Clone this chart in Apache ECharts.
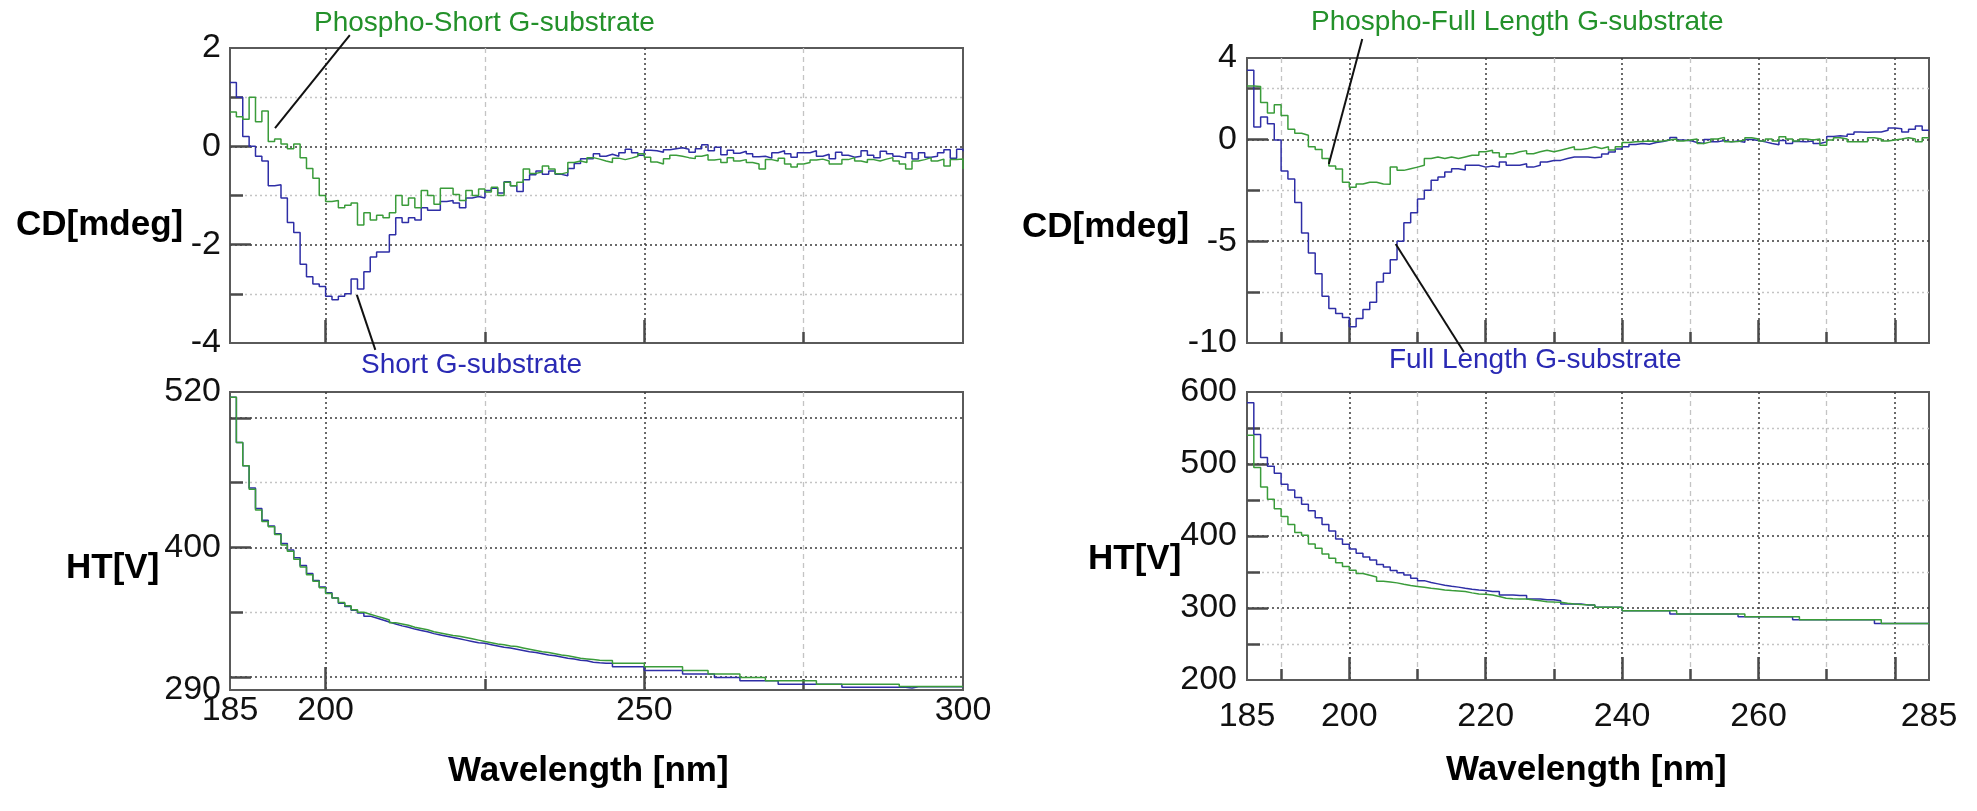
<!DOCTYPE html>
<html>
<head>
<meta charset="utf-8">
<script src="https://cdn.jsdelivr.net/npm/echarts@6/dist/echarts.min.js"></script>
<style>
  html, body { margin: 0; padding: 0; background: #ffffff; }
  #chart { width: 1977px; height: 811px; }
</style>
</head>
<body>
<div id="chart"></div>
<script>
// ---------------- spectra (1 nm sampling) ----------------
// Short G-substrate panel: 185 .. 300 nm
const shortStart = 185;
const cdShort = [
  1.30, 1.00, 0.20, 0.00, -0.20, -0.30, -0.80, -0.78, -1.05, -1.55,
  -1.75, -2.40, -2.65, -2.80, -2.85, -3.05, -3.12, -3.05, -3.00, -2.70,
  -2.90, -2.55, -2.25, -2.15, -2.15, -1.80, -1.45, -1.55, -1.45, -1.50,
  -1.25, -1.30, -1.30, -1.12, -1.10, -1.15, -1.25, -1.05, -1.02, -1.05,
  -0.90, -0.85, -0.95, -0.72, -0.80, -0.92, -0.68, -0.58, -0.50, -0.57,
  -0.50, -0.57, -0.60, -0.45, -0.35, -0.25, -0.25, -0.15,
  -0.20, -0.16, -0.20, -0.13, -0.06, -0.13, -0.18, -0.08, -0.09, -0.12,
  -0.07, -0.05, -0.03, -0.06, -0.12, -0.05, 0.03, -0.09, -0.02, -0.17,
  -0.08, -0.14, -0.10, -0.15, -0.21, -0.20, -0.24, -0.13, -0.09, -0.15,
  -0.22, -0.13, -0.13, -0.09, -0.20, -0.16, -0.25, -0.12, -0.18, -0.22,
  -0.20, -0.09, -0.18, -0.23, -0.10, -0.15, -0.20, -0.23, -0.13, -0.26,
  -0.13, -0.22, -0.20, -0.13, -0.07, -0.24, -0.06, -0.10
];
const cdPhosphoShort = [
  0.70, 0.60, 0.55, 1.00, 0.50, 0.72, 0.10, 0.15, 0.05, -0.05,
  0.05, -0.23, -0.45, -0.65, -1.00, -1.12, -1.10, -1.25, -1.20, -1.15,
  -1.60, -1.35, -1.50, -1.40, -1.45, -1.35, -1.00, -1.20, -1.05, -1.25,
  -0.90, -1.00, -1.18, -0.85, -0.85, -0.98, -1.10, -0.90, -1.00, -0.87,
  -0.93, -0.83, -1.00, -0.73, -0.80, -0.73, -0.46, -0.55, -0.52, -0.40,
  -0.46, -0.56, -0.53, -0.33, -0.30, -0.33, -0.23, -0.26,
  -0.30, -0.33, -0.24, -0.27, -0.24, -0.20, -0.15, -0.22, -0.32, -0.36,
  -0.25, -0.18, -0.20, -0.23, -0.25, -0.20, -0.17, -0.28, -0.26, -0.33,
  -0.23, -0.30, -0.27, -0.33, -0.36, -0.46, -0.27, -0.30, -0.24, -0.36,
  -0.42, -0.36, -0.33, -0.28, -0.26, -0.30, -0.36, -0.36, -0.27, -0.23,
  -0.30, -0.33, -0.27, -0.30, -0.26, -0.23, -0.30, -0.36, -0.46, -0.30,
  -0.27, -0.23, -0.30, -0.26, -0.40, -0.27, -0.26, -0.46
];
const htShort = [
  516, 481, 463, 446, 430, 421, 416.5, 410.5, 403, 398,
  392, 386, 380, 374.5, 369.5, 365, 361, 357, 354.5, 351.5,
  349.5, 347, 345.5, 344, 342.5, 341, 339.5, 338.5, 337, 336,
  335, 333.5, 332.5, 331.5, 330.5, 329.5, 328.5, 327.5, 326.5, 326,
  325, 324, 323, 322.5, 321.5, 320.5, 319.5, 319, 318, 317,
  316.5, 315.5, 314.5, 314, 313, 312.5, 311.5, 311, 310.6, 310.6,
  308, 308, 308, 308, 308, 305, 305, 305, 305, 305,
  305, 302.3, 302.3, 302.3, 302.3, 302.3, 299.7, 299.7, 299.7, 299.7,
  297.1, 297.1, 297.1, 297.1, 297.1, 297.1, 294.5, 294.5, 294.5, 294.5,
  294.5, 294.5, 294.5, 294.5, 294.5, 294.5, 292.2, 292.2, 292.2, 292.2,
  292.2, 292.2, 292.2, 292.2, 292.2, 292.2, 291.5, 292.5, 292.5, 292.5,
  292.5, 292.5, 292.5, 292.5, 292.5, 292.5
];
const htPhosphoShort = [
  516, 481, 463, 445, 429, 420, 416, 410, 402, 397,
  391, 385, 379, 374, 369, 364.5, 361, 357.5, 355, 352,
  350, 348.5, 347, 345.5, 344, 342, 341, 340, 338.5, 337.5,
  336.5, 335, 334, 333, 332, 331.5, 330.5, 329.5, 328.5, 327.5,
  326.5, 325.5, 325, 324, 323.5, 322.5, 321.5, 320.5, 319.5, 319,
  318, 317, 316.5, 315.5, 314.5, 314, 313.5, 313, 312.7, 312.7,
  310.6, 310.6, 310.6, 310.6, 310.6, 308, 308, 308, 308, 308,
  308, 305, 305, 305, 305, 302.3, 302.3, 302.3, 302.3, 302.3,
  299.7, 299.7, 299.7, 299.7, 297.1, 297.1, 297.1, 297.1, 297.1, 297.1,
  297.1, 297.1, 294.5, 294.5, 294.5, 294.5, 294.5, 294.5, 294.5, 294.5,
  294.5, 294.5, 294.5, 294.5, 294.5, 292.7, 292.7, 292.7, 292.7, 292.7,
  292.7, 292.7, 292.7, 292.7, 292.7, 292.7
];

// Full Length G-substrate panel: 185 .. 285 nm
const fullStart = 185;
const cdFull = [
  3.40, 0.61, 1.10, 0.77, -0.03, -1.55, -1.94, -3.10, -4.60, -5.58,
  -6.60, -7.70, -8.30, -8.55, -8.75, -9.20, -8.80, -8.35, -8.00, -7.00,
  -6.57, -5.91, -5.00, -4.09, -3.60, -2.93, -2.50, -2.00, -1.85, -1.60,
  -1.44, -1.50, -1.27, -1.27, -1.36, -1.30, -1.36, -1.11, -1.27, -1.27,
  -1.20, -1.36, -1.27, -1.11, -1.03, -1.03, -0.94, -0.86, -0.86, -0.86,
  -0.90,
  -0.86, -0.72, -0.62, -0.47, -0.36, -0.25, -0.20, -0.24, -0.15, -0.10,
  -0.03, 0.10, -0.03, -0.06, -0.15, -0.20, 0.00, -0.12, -0.05, -0.12,
  -0.08, -0.14, 0.00, -0.05, -0.12, -0.20, -0.26, -0.05, -0.20, -0.10,
  -0.12, -0.08, -0.20, -0.12, 0.15, 0.18, 0.15, 0.25, 0.37, 0.35,
  0.37, 0.37, 0.45, 0.56, 0.53, 0.37, 0.50, 0.66, 0.45, 0.45
];
const cdPhosphoFull = [
  2.63, 2.60, 1.82, 1.30, 1.70, 1.18, 0.50, 0.30, 0.21, -0.36,
  -0.50, -0.94, -1.30, -1.45, -2.10, -2.35, -2.19, -2.10, -2.10, -2.19,
  -2.20, -1.36, -1.52, -1.44, -1.36, -1.27, -0.94, -0.86, -0.94, -0.86,
  -0.94, -0.86, -0.78, -0.78, -0.61, -0.53, -0.65, -0.86, -0.70, -0.61,
  -0.55, -0.70, -0.61, -0.53, -0.61, -0.53, -0.45, -0.36, -0.50, -0.45,
  -0.36,
  -0.45, -0.36, -0.52, -0.36, -0.15, -0.12, -0.10, -0.08, -0.10, -0.08,
  -0.03, 0.02, -0.08, -0.03, 0.02, -0.20, -0.12, 0.02, 0.10, -0.12,
  -0.10, -0.03, 0.08, 0.02, -0.08, 0.02, -0.08, 0.13, 0.02, -0.08,
  0.02, -0.03, 0.02, -0.28, -0.03, 0.08, 0.02, -0.12, -0.12, -0.12,
  0.08, 0.02, -0.08, -0.03, 0.02, 0.08, 0.02, -0.12, 0.08, 0.08
];
const htFull = [
  585, 541, 509, 497, 487, 472, 464, 453.5, 444, 435,
  425.5, 416, 407, 396, 388.5, 382, 376, 371, 366.5, 360.5,
  357, 352, 349, 346, 341.4, 338, 335.5, 333.5, 331.5, 330.2,
  329, 327.4, 326, 325, 324.2, 322.8, 322.8, 318.1, 318.1, 317.2,
  317.2, 312.6, 312.6, 311.6, 311.6, 310.2, 305.6, 305.6, 305.6, 304.2,
  304.2,
  300.9, 300.9, 300.9, 300.9, 296.3, 296.3, 296.3, 296.3, 296.3, 296.3,
  296.3, 291.6, 291.6, 291.6, 291.6, 291.6, 291.6, 291.6, 291.6, 291.6,
  291.6, 287.9, 287.9, 287.9, 287.9, 287.9, 287.9, 287.9, 287.9, 283.7,
  283.7, 283.7, 283.7, 283.7, 283.7, 283.7, 283.7, 283.7, 283.7, 283.7,
  283.7, 278.6, 278.6, 278.6, 278.6, 278.6, 278.6, 278.6, 278.6, 278.6
];
const htPhosphoFull = [
  540, 495, 468, 451, 438, 427, 416, 405, 401, 389,
  383, 375, 369, 363, 357.5, 352.5, 348, 345.5, 343, 337,
  336, 334.9, 333, 331.2, 330, 328.8, 327.5, 326.5, 325, 324.2,
  323.5, 322.8, 321, 319.5, 319, 318.1, 316, 313.5, 313, 312.6,
  312.6, 311, 310, 308.8, 308.3, 307.9, 306.5, 305.6, 305, 304.5,
  304.2,
  300.9, 300.9, 300.9, 300.9, 296.3, 296.3, 296.3, 296.3, 296.3, 296.3,
  296.3, 296.3, 291.6, 291.6, 291.6, 291.6, 291.6, 291.6, 291.6, 291.6,
  291.6, 291.6, 287.9, 287.9, 287.9, 287.9, 287.9, 287.9, 287.9, 287.9,
  283.7, 283.7, 283.7, 283.7, 283.7, 283.7, 283.7, 283.7, 283.7, 283.7,
  283.7, 283.7, 278.6, 278.6, 278.6, 278.6, 278.6, 278.6, 278.6, 278.6
];

// ---------------- axis ticks / labels ----------------
const shortXLabels = [185, 200, 250, 300];
const shortXMajor = [200, 250];
const shortXMinor = [225, 275];
const fullXLabels = [185, 200, 220, 240, 260, 285];
const fullXMajor = [200, 220, 240, 260, 280];
const fullXMinor = [190, 210, 230, 250, 270];

const cdShortLabels = [-4, -2, 0, 2];
const cdShortMajor = [-2, 0];
const cdShortMinor = [-3, -1, 1];
const htShortLabels = [290, 400, 520];
const htShortMajor = [300, 400, 500];
const htShortMinor = [350, 450];
const cdFullLabels = [-10, -5, 0, 4];
const cdFullMajor = [-5, 0];
const cdFullMinor = [-7.5, -2.5, 2.5];
const htFullLabels = [200, 300, 400, 500, 600];
const htFullMajor = [300, 400, 500];
const htFullMinor = [250, 350, 450, 550];

// ---------------- annotations (data coordinates) ----------------
const annotations = [
  { panel: 'cdShort', text: 'Phospho-Short G-substrate', color: '#23912a', pos: [314, 23], from: [203.8, 2.26], to: [192.06, 0.37] },
  { panel: 'cdShort', text: 'Short G-substrate', color: '#2a2ab4', pos: [361, 365], from: [204.9, -3.02], to: [207.8, -4.14] },
  { panel: 'cdFull', text: 'Phospho-Full Length G-substrate', color: '#23912a', pos: [1311, 22], from: [201.9, 4.93], to: [197.0, -1.21] },
  { panel: 'cdFull', text: 'Full Length G-substrate', color: '#2a2ab4', pos: [1389, 360], from: [206.8, -5.14], to: [216.8, -10.44] }
];
const axisTitles = [
  { text: 'CD[mdeg]', pos: [16, 225] },
  { text: 'HT[V]', pos: [66, 568] },
  { text: 'Wavelength [nm]', pos: [448, 771] },
  { text: 'CD[mdeg]', pos: [1022, 227] },
  { text: 'HT[V]', pos: [1088, 559] },
  { text: 'Wavelength [nm]', pos: [1446, 770] }
];

// ---------------- styling ----------------
const BLUE = '#2e2ea6';
const GREEN = '#3a9c3a';
const TICK_COLOR = '#4a4a4a';
const MAJOR_GRID = '#3a3a3a';
const MINOR_GRID = '#c4c4c4';
const NUM_FONT = "'Liberation Sans', Arial, sans-serif";
const TEXT_FONT = "'Liberation Sans', Arial, sans-serif";

const panels = ['cdShort', 'htShort', 'cdFull', 'htFull'];
const rects = {
  cdShort: { left: 230, top: 48, width: 733, height: 295 },
  htShort: { left: 230, top: 392, width: 733, height: 298 },
  cdFull: { left: 1247, top: 58, width: 682, height: 285 },
  htFull: { left: 1247, top: 392, width: 682, height: 288 }
};
const grids = panels.map(p => Object.assign({ show: true, borderColor: '#5a5a5a', borderWidth: 2, backgroundColor: '#fff' }, rects[p]));

function pairs(start, values) {
  return values.map((v, i) => [start + i, v]);
}

const tickStyle = { color: TICK_COLOR, width: 2.5 };

// Two overlaid axes per dimension: one carries the major ticks, grid lines and
// labels, the other the shorter minor ticks and light grid lines.
function axisPair(gridIndex, position, min, max, major, minor, labels, o) {
  return [
    {
      type: 'value', gridIndex, position, min, max,
      axisLine: { show: false, onZero: false },
      axisTick: { show: true, inside: true, length: o.majorLen, customValues: major, lineStyle: tickStyle },
      axisLabel: labels
        ? { show: true, customValues: labels, margin: o.margin, fontFamily: NUM_FONT, fontSize: 34, color: '#111' }
        : { show: false },
      splitLine: { show: true, lineStyle: { color: MAJOR_GRID, width: 1.5, type: [2, 3] } }
    },
    {
      type: 'value', gridIndex, position, min, max,
      axisLine: { show: false, onZero: false },
      axisTick: { show: true, inside: true, length: o.minorLen, customValues: minor, lineStyle: tickStyle },
      axisLabel: { show: false },
      splitLine: { show: true, lineStyle: { color: MINOR_GRID, width: 1.3, type: o.minorDash } }
    }
  ];
}

const xOpt = { majorLen: 23, minorLen: 11, minorDash: [5, 4] };
const yOpt = { majorLen: 21, minorLen: 13, minorDash: [2, 3] };

const xAxis = [].concat(
  axisPair(0, 'bottom', 185, 300, shortXMajor, shortXMinor, null, xOpt),
  axisPair(1, 'bottom', 185, 300, shortXMajor, shortXMinor, shortXLabels, Object.assign({ margin: 4 }, xOpt)),
  axisPair(2, 'bottom', 185, 285, fullXMajor, fullXMinor, null, xOpt),
  axisPair(3, 'bottom', 185, 285, fullXMajor, fullXMinor, fullXLabels, Object.assign({ margin: 20 }, xOpt))
);
const yAxis = [].concat(
  axisPair(0, 'left', -4, 2, cdShortMajor, cdShortMinor, cdShortLabels, Object.assign({ margin: 9 }, yOpt)),
  axisPair(1, 'left', 290, 520, htShortMajor, htShortMinor, htShortLabels, Object.assign({ margin: 9 }, yOpt)),
  axisPair(2, 'left', -10, 4, cdFullMajor, cdFullMinor, cdFullLabels, Object.assign({ margin: 10 }, yOpt)),
  axisPair(3, 'left', 200, 600, htFullMajor, htFullMinor, htFullLabels, Object.assign({ margin: 10 }, yOpt))
);

const panelAxes = {};
panels.forEach((p, i) => { panelAxes[p] = { xAxisIndex: i * 2, yAxisIndex: i * 2 }; });

function trace(name, panel, start, values, color) {
  return Object.assign({
    name, type: 'line', step: 'end',
    data: pairs(start, values),
    showSymbol: false, symbol: 'none',
    lineStyle: { color, width: 1.5 },
    itemStyle: { color },
    z: 3
  }, panelAxes[panel]);
}

const series = [
  trace('Short G-substrate', 'cdShort', shortStart, cdShort, BLUE),
  trace('Phospho-Short G-substrate', 'cdShort', shortStart, cdPhosphoShort, GREEN),
  trace('Short G-substrate HT', 'htShort', shortStart, htShort, BLUE),
  trace('Phospho-Short G-substrate HT', 'htShort', shortStart, htPhosphoShort, GREEN),
  trace('Full Length G-substrate', 'cdFull', fullStart, cdFull, BLUE),
  trace('Phospho-Full Length G-substrate', 'cdFull', fullStart, cdPhosphoFull, GREEN),
  trace('Full Length G-substrate HT', 'htFull', fullStart, htFull, BLUE),
  trace('Phospho-Full Length G-substrate HT', 'htFull', fullStart, htPhosphoFull, GREEN)
];

const chart = echarts.init(document.getElementById('chart'), null, { renderer: 'canvas' });
chart.setOption({
  animation: false,
  backgroundColor: '#ffffff',
  grid: grids,
  xAxis, yAxis, series
});

// Leader lines are anchored to data coordinates of their panel.
const graphic = [];
annotations.forEach(a => {
  const finder = panelAxes[a.panel];
  const p1 = chart.convertToPixel(finder, a.from);
  const p2 = chart.convertToPixel(finder, a.to);
  graphic.push({
    type: 'line', z: 20,
    shape: { x1: p1[0], y1: p1[1], x2: p2[0], y2: p2[1] },
    style: { stroke: '#111', lineWidth: 2 }
  });
  graphic.push({
    type: 'text', z: 20, x: a.pos[0], y: a.pos[1],
    style: { text: a.text, fill: a.color, font: '28px ' + TEXT_FONT, textAlign: 'left', textVerticalAlign: 'middle' }
  });
});
axisTitles.forEach(t => {
  graphic.push({
    type: 'text', z: 20, x: t.pos[0], y: t.pos[1],
    style: { text: t.text, fill: '#000', font: 'bold 35px ' + TEXT_FONT, textAlign: 'left', textVerticalAlign: 'middle' }
  });
});
chart.setOption({ graphic });
</script>
</body>
</html>
